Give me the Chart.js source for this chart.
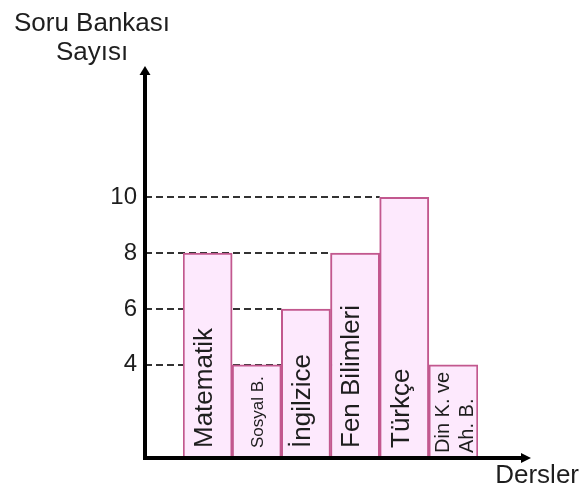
<!DOCTYPE html>
<html>
<head>
<meta charset="utf-8">
<script src="https://cdn.jsdelivr.net/npm/chart.js@4.4.1/dist/chart.umd.min.js"></script>
<style>
  html, body { margin: 0; padding: 0; background: #fff; }
  #wrap { width: 581px; height: 492px; position: relative; }
</style>
</head>
<body>
<div id="wrap"><canvas id="chart"></canvas></div>
<script>
// chart data
const categories = ['Matematik', 'Sosyal B.', 'İngilzice', 'Fen Bilimleri', 'Türkçe', 'Din K. ve\nAh. B.'];
const counts = [8, 4, 6, 8, 10, 4];
const tickValues = [4, 6, 8, 10];
const yTitle = ['Soru Bankası', 'Sayısı'];
const xTitle = 'Dersler';

// axis range (the drawn axis does not start at zero)
const Y_MIN = 0.66;
const Y_MAX = 14.67;

const FONT = '"Liberation Sans", Arial, sans-serif';
const TEXT = '#1e1e1e';
const labelSizes = [26, 17, 26, 26, 26, 20];

// dashed guides, axes with arrows, labels inside the bars, titles
const drawing = {
  id: 'drawing',
  beforeDatasetsDraw(chart) {
    const ctx = chart.ctx;
    const y = chart.scales.y;
    const meta = chart.getDatasetMeta(0);
    const axisX = chart.chartArea.left - 38;
    ctx.save();
    ctx.strokeStyle = '#333';
    ctx.lineWidth = 2;
    ctx.setLineDash([7, 4]);
    tickValues.forEach(v => {
      const idx = counts.lastIndexOf(v);
      if (idx < 0) return;
      const bar = meta.data[idx];
      const py = Math.round(y.getPixelForValue(v));
      ctx.beginPath();
      ctx.moveTo(axisX, py);
      ctx.lineTo(bar.x - bar.width / 2, py);
      ctx.stroke();
    });
    ctx.restore();
  },
  afterDatasetsDraw(chart) {
    const ctx = chart.ctx;
    const area = chart.chartArea;
    const meta = chart.getDatasetMeta(0);
    ctx.save();

    // labels inside the bars, rotated
    ctx.fillStyle = TEXT;
    meta.data.forEach((bar, i) => {
      const size = labelSizes[i];
      const lines = categories[i].split('\n');
      const lh = size * 1.2;
      ctx.font = size + 'px ' + FONT;
      ctx.textAlign = 'left';
      ctx.textBaseline = 'alphabetic';
      const startY = area.bottom - (lines.length > 1 ? 5 : 10);
      lines.forEach((line, k) => {
        let shift = 0.36 * size + (k - (lines.length - 1) / 2) * lh;
        if (size > 24) shift -= 5;
        ctx.save();
        ctx.translate(bar.x + shift, startY);
        ctx.rotate(-Math.PI / 2);
        ctx.fillText(line, 0, 0);
        ctx.restore();
      });
    });

    // axes
    const ax = area.left - 38;
    const ay = area.bottom;
    ctx.strokeStyle = '#000';
    ctx.fillStyle = '#000';
    ctx.lineWidth = 4;
    ctx.beginPath();
    ctx.moveTo(ax, ay + 2);
    ctx.lineTo(ax, area.top + 7);
    ctx.moveTo(ax - 2, ay);
    ctx.lineTo(area.right + 44, ay);
    ctx.stroke();
    ctx.beginPath();
    ctx.moveTo(ax - 5.5, area.top + 8);
    ctx.lineTo(ax + 5.5, area.top + 8);
    ctx.lineTo(ax, area.top - 1);
    ctx.closePath();
    ctx.fill();
    ctx.beginPath();
    ctx.moveTo(area.right + 43, ay - 5);
    ctx.lineTo(area.right + 43, ay + 5);
    ctx.lineTo(area.right + 53, ay);
    ctx.closePath();
    ctx.fill();

    // titles
    ctx.fillStyle = TEXT;
    ctx.font = '26px ' + FONT;
    ctx.textAlign = 'center';
    ctx.fillText(yTitle[0], 92, 31);
    ctx.fillText(yTitle[1], 92, 60);
    ctx.textAlign = 'right';
    ctx.fillText(xTitle, 579, 483);
    ctx.restore();
  }
};

new Chart(document.getElementById('chart'), {
  type: 'bar',
  data: {
    labels: categories,
    datasets: [{
      data: counts,
      base: Y_MIN,
      backgroundColor: '#fde9fd',
      borderColor: '#c2588e',
      borderWidth: 2,
      borderSkipped: false,
      barPercentage: 1,
      categoryPercentage: 1
    }]
  },
  options: {
    responsive: true,
    maintainAspectRatio: false,
    animation: false,
    layout: { padding: { left: 0, top: 67, right: 103, bottom: 34 } },
    plugins: { legend: { display: false }, tooltip: { enabled: false } },
    scales: {
      x: { display: false },
      y: {
        min: Y_MIN,
        max: Y_MAX,
        afterBuildTicks: s => { s.ticks = tickValues.map(v => ({ value: v })); },
        afterFit: s => {
          s.width = 183;
          s.paddingTop = 0;
          s.paddingBottom = 0;
        },
        grid: { display: false, drawTicks: false },
        border: { display: false },
        ticks: { padding: 46, color: TEXT, font: { size: 24, family: FONT } }
      }
    }
  },
  plugins: [drawing]
});
</script>
</body>
</html>
